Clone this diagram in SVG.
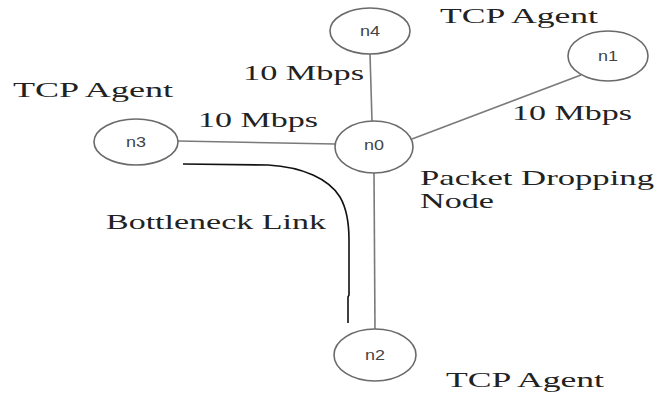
<svg xmlns="http://www.w3.org/2000/svg" width="665" height="394" viewBox="0 0 665 394">
<style>
.bg{fill:#ffffff}
.node{fill:#ffffff;stroke:#6a6a6a;stroke-width:1.6}
.nl{font-family:"Liberation Sans",Arial,sans-serif;font-size:14px;fill:#444;text-anchor:middle}
.lbl{font-family:"Liberation Serif","Times New Roman",serif;font-size:22px;fill:#222}
.link{stroke:#7a7a7a;stroke-width:1.6;fill:none}
.bn{stroke:#111;stroke-width:1.6;fill:none}
</style>
<rect class="bg" x="0" y="0" width="665" height="394"/>
<g id="connectors">
<line class="link" x1="370" y1="54" x2="372" y2="121"/>
<line class="link" x1="178" y1="141" x2="335" y2="144"/>
<line class="link" x1="412" y1="139" x2="581" y2="75"/>
<line class="link" x1="374" y1="173" x2="375" y2="329"/>
<path class="bn" d="M183,164 L268,165 C303,167 329,179 340,197 C347,209 349,222 349,240 L349,295 L348,297 L348,323"/>
</g>
<g id="n4"><ellipse class="node" cx="370" cy="31" rx="40" ry="23"/><text class="nl" x="370" y="36" textLength="20" lengthAdjust="spacingAndGlyphs">n4</text></g>
<g id="n1"><ellipse class="node" cx="608" cy="56" rx="40" ry="25"/><text class="nl" x="608" y="61" textLength="20" lengthAdjust="spacingAndGlyphs">n1</text></g>
<g id="n3"><ellipse class="node" cx="136" cy="142" rx="42" ry="23"/><text class="nl" x="136" y="147" textLength="20" lengthAdjust="spacingAndGlyphs">n3</text></g>
<g id="n0"><ellipse class="node" cx="374" cy="147" rx="39" ry="26"/><text class="nl" x="374" y="150" textLength="20" lengthAdjust="spacingAndGlyphs">n0</text></g>
<g id="n2"><ellipse class="node" cx="375" cy="355" rx="41" ry="26"/><text class="nl" x="375" y="360" textLength="20" lengthAdjust="spacingAndGlyphs">n2</text></g>
<g id="labels">
<text class="lbl" x="440" y="23" textLength="158" lengthAdjust="spacingAndGlyphs">TCP Agent</text>
<text class="lbl" x="243" y="80" textLength="121" lengthAdjust="spacingAndGlyphs">10 Mbps</text>
<text class="lbl" x="13" y="97" textLength="160" lengthAdjust="spacingAndGlyphs">TCP Agent</text>
<text class="lbl" x="198" y="127" textLength="120" lengthAdjust="spacingAndGlyphs">10 Mbps</text>
<text class="lbl" x="512" y="120" textLength="120" lengthAdjust="spacingAndGlyphs">10 Mbps</text>
<text class="lbl" x="420" y="185" textLength="234" lengthAdjust="spacingAndGlyphs">Packet Dropping</text>
<text class="lbl" x="420" y="208" textLength="74" lengthAdjust="spacingAndGlyphs">Node</text>
<text class="lbl" x="106" y="229" textLength="220" lengthAdjust="spacingAndGlyphs">Bottleneck Link</text>
<text class="lbl" x="446" y="387" textLength="158" lengthAdjust="spacingAndGlyphs">TCP Agent</text>
</g>
</svg>
